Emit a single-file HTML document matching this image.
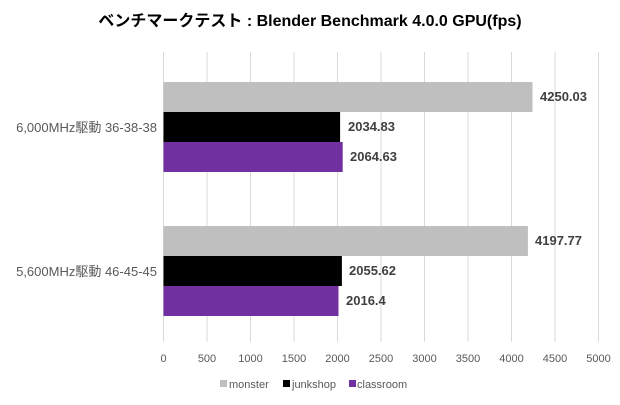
<!DOCTYPE html>
<html><head><meta charset="utf-8"><style>
body{margin:0;background:#fff;}
svg text{font-family:"Liberation Sans","Noto Sans CJK JP",sans-serif;}
</style></head><body>
<svg width="620" height="400" xmlns="http://www.w3.org/2000/svg">
<rect width="620" height="400" fill="#fff"/>
<text x="310" y="26" text-anchor="middle" font-size="16" font-weight="bold" fill="#000">ベンチマークテスト : Blender Benchmark 4.0.0 GPU(fps)</text>
<g stroke="#d9d9d9" stroke-width="1">
<line x1="163.5" y1="52" x2="163.5" y2="342"/>
<line x1="207" y1="52" x2="207" y2="342"/>
<line x1="250.5" y1="52" x2="250.5" y2="342"/>
<line x1="294" y1="52" x2="294" y2="342"/>
<line x1="337.5" y1="52" x2="337.5" y2="342"/>
<line x1="381" y1="52" x2="381" y2="342"/>
<line x1="424.5" y1="52" x2="424.5" y2="342"/>
<line x1="468" y1="52" x2="468" y2="342"/>
<line x1="511.5" y1="52" x2="511.5" y2="342"/>
<line x1="555" y1="52" x2="555" y2="342"/>
<line x1="598.5" y1="52" x2="598.5" y2="342"/>
</g>
<rect x="163.5" y="82" width="369" height="30" fill="#bfbfbf"/>
<rect x="163.5" y="112" width="176.6" height="30" fill="#000"/>
<rect x="163.5" y="142" width="179.2" height="30" fill="#7030a0"/>
<rect x="163.5" y="226" width="364.4" height="30" fill="#bfbfbf"/>
<rect x="163.5" y="256" width="178.4" height="30" fill="#000"/>
<rect x="163.5" y="286" width="175" height="30" fill="#7030a0"/>
<g font-size="13" font-weight="bold" fill="#404040">
<text x="540" y="101">4250.03</text>
<text x="348" y="131">2034.83</text>
<text x="350" y="161">2064.63</text>
<text x="535" y="245">4197.77</text>
<text x="349" y="275">2055.62</text>
<text x="346" y="305">2016.4</text>
</g>
<g font-size="13" fill="#595959" text-anchor="end">
<text x="157" y="132">6,000MHz駆動 36-38-38</text>
<text x="157" y="276">5,600MHz駆動 46-45-45</text>
</g>
<g font-size="11" fill="#595959" text-anchor="middle">
<text x="163.5" y="362">0</text><text x="207" y="362">500</text><text x="250.5" y="362">1000</text>
<text x="294" y="362">1500</text><text x="337.5" y="362">2000</text><text x="381" y="362">2500</text>
<text x="424.5" y="362">3000</text><text x="468" y="362">3500</text><text x="511.5" y="362">4000</text>
<text x="555" y="362">4500</text><text x="598.5" y="362">5000</text>
</g>
<g font-size="11" fill="#595959">
<rect x="220" y="380" width="7" height="7" fill="#bfbfbf"/><text x="229" y="388">monster</text>
<rect x="283" y="380" width="7" height="7" fill="#000"/><text x="292" y="388">junkshop</text>
<rect x="349" y="380" width="7" height="7" fill="#7030a0"/><text x="357" y="388">classroom</text>
</g>
</svg>
</body></html>
